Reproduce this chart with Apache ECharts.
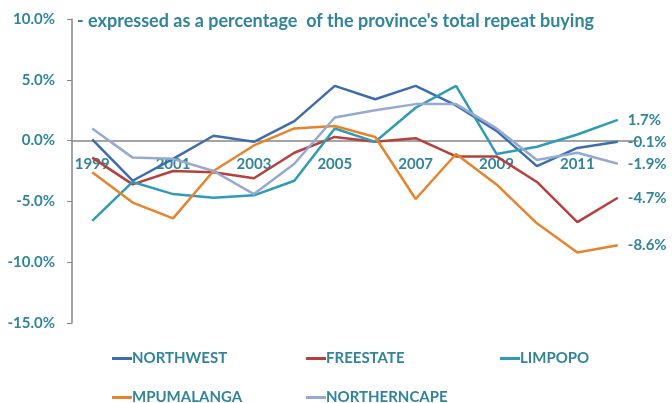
<!DOCTYPE html>
<html>
<head>
<meta charset="utf-8">
<script src="https://cdn.jsdelivr.net/npm/echarts@6/dist/echarts.min.js"></script>
<style>
  html, body { margin: 0; padding: 0; background: #fff; }
  #chart { width: 672px; height: 403px; }
</style>
</head>
<body>
<div id="chart"></div>
<script>
var years = ['1999', '2000', '2001', '2002', '2003', '2004', '2005', '2006', '2007', '2008', '2009', '2010', '2011', '2012'];
var northwest = [0.1, -3.3, -1.5, 0.4, -0.1, 1.6, 4.5, 3.4, 4.5, 2.9, 0.8, -2.1, -0.6, -0.1];
var freestate = [-1.4, -3.6, -2.5, -2.6, -3.1, -1.0, 0.3, -0.1, 0.2, -1.3, -1.3, -3.4, -6.7, -4.7];
var limpopo = [-6.6, -3.4, -4.4, -4.7, -4.5, -3.3, 1.0, -0.1, 2.7, 4.5, -1.1, -0.5, 0.5, 1.7];
var mpumalanga = [-2.6, -5.1, -6.4, -2.5, -0.4, 1.0, 1.2, 0.3, -4.8, -1.1, -3.6, -6.8, -9.2, -8.6];
var northerncape = [1.0, -1.4, -1.5, -2.5, -4.4, -1.9, 1.9, 2.5, 3.0, 3.0, 1.0, -1.6, -1.0, -1.9];

var teal = '#31849B';
var font = 'Lato';
var chart = echarts.init(document.getElementById('chart'));

// grid box: top 19, bottom 80 -> plot height 304, value range -15..10
var gridTop = 19, gridBottom = 80, plotH = 403 - gridTop - gridBottom;
var zeroOffset = -(plotH * 15 / 25);

function makeSeries(name, data, color) {
    return {
        name: name,
        type: 'line',
        data: data,
        symbol: 'none',
        lineStyle: { color: color, width: 2.5 },
        itemStyle: { color: color },
        endLabel: {
            show: true,
            distance: 10,
            color: teal,
            fontFamily: font,
            fontWeight: 'bold',
            fontSize: 15,
            formatter: function (p) {
                return p.value.toFixed(1) + '%';
            }
        }
    };
}

function makeLegend(name, left, top) {
    return {
        data: [name],
        left: left,
        top: top,
        icon: 'rect',
        itemWidth: 20,
        itemHeight: 3,
        textStyle: { color: teal, fontFamily: font, fontWeight: 'bold', fontSize: 15, padding: [0, 0, 0, -5] }
    };
}

var option = {
    animation: false,
    title: {
        text: "- expressed as a percentage  of the province's total repeat buying",
        left: 72,
        top: 7,
        textStyle: { color: teal, fontFamily: font, fontWeight: 'bold', fontSize: 18 }
    },
    legend: [
        makeLegend('NORTHWEST', 107, 346),
        makeLegend('FREESTATE', 301, 346),
        makeLegend('LIMPOPO', 495, 346),
        makeLegend('MPUMALANGA', 107, 385),
        makeLegend('NORTHERNCAPE', 301, 385)
    ],
    grid: {
        left: 72,
        right: 34,
        top: gridTop,
        bottom: gridBottom,
        outerBoundsMode: 'none'
    },
    xAxis: {
        type: 'category',
        data: years,
        offset: zeroOffset,
        axisLine: { onZero: false, lineStyle: { color: '#868686', width: 1.5 } },
        axisTick: { length: 5, lineStyle: { color: '#868686' } },
        axisLabel: {
            interval: 1,
            margin: 16,
            color: teal,
            fontFamily: font,
            fontWeight: 'bold',
            fontSize: 15
        }
    },
    yAxis: {
        type: 'value',
        min: -15,
        max: 10,
        interval: 5,
        splitLine: { show: false },
        axisLine: { show: true, lineStyle: { color: '#868686', width: 1.5 } },
        axisTick: { show: true, length: 5, lineStyle: { color: '#868686' } },
        axisLabel: {
            margin: 17,
            color: teal,
            fontFamily: font,
            fontWeight: 'bold',
            fontSize: 15,
            formatter: function (v) {
                return v.toFixed(1) + '%';
            }
        }
    },
    series: [
        makeSeries('NORTHWEST', northwest, '#3F6DAA'),
        makeSeries('FREESTATE', freestate, '#B5403D'),
        makeSeries('LIMPOPO', limpopo, '#2F9CB3'),
        makeSeries('MPUMALANGA', mpumalanga, '#E6842E'),
        makeSeries('NORTHERNCAPE', northerncape, '#95A9D3')
    ]
};
chart.setOption(option);
</script>
</body>
</html>
